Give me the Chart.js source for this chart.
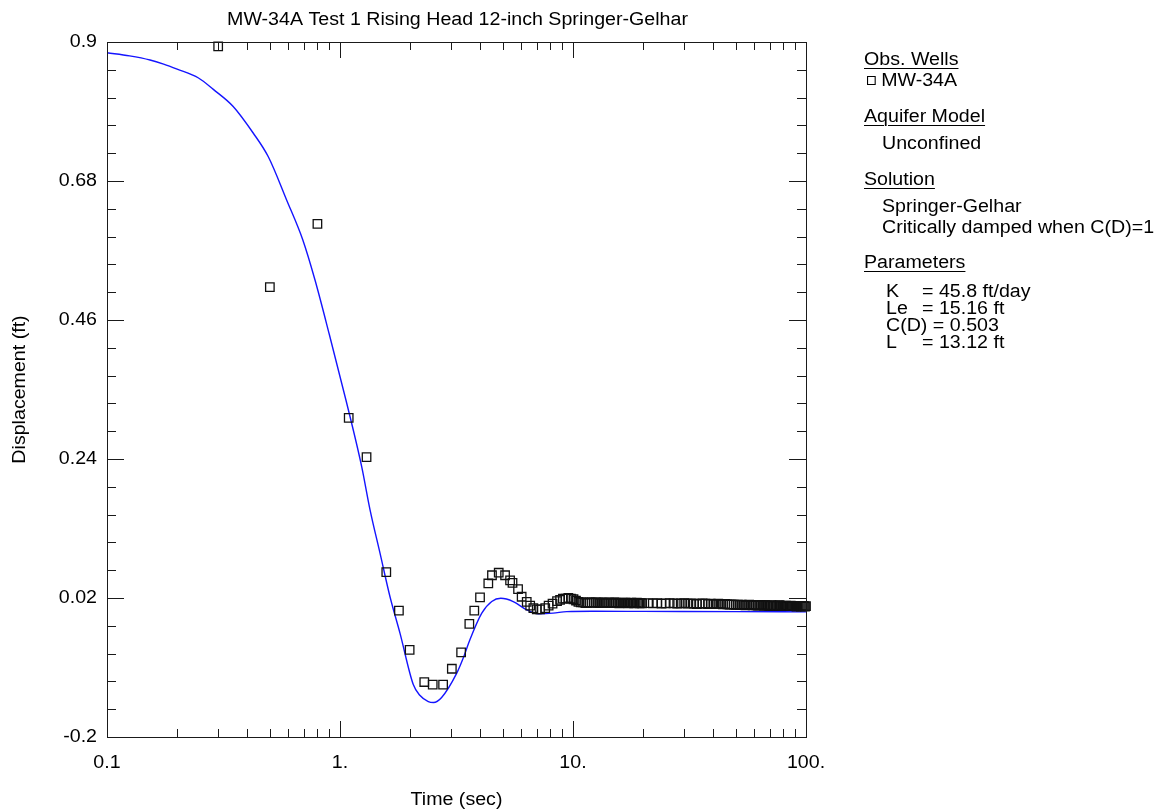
<!DOCTYPE html>
<html>
<head>
<meta charset="utf-8">
<title>MW-34A Test 1 Rising Head</title>
<script src="https://cdn.jsdelivr.net/npm/chart.js@4.4.1/dist/chart.umd.min.js"></script>
<style>
  html, body { margin: 0; padding: 0; background: #fff; }
  #wrap { position: relative; width: 1159px; height: 811px; }
  #plot { position: absolute; left: 0; top: 0; }
  .side { position: absolute; left: 0; top: 0; font-family: "Liberation Sans", Arial, sans-serif; font-size: 18px; color: #000; }
  .side div { position: absolute; white-space: nowrap; line-height: 20px; transform: scaleX(1.09); transform-origin: left center; }
  .head { text-decoration: underline; text-decoration-thickness: 1px; text-underline-offset: 3px; }
  .box { display: inline-block; width: 6px; height: 7px; border: 1px solid #000; margin-right: 5px; position: relative; top: -1px; }
</style>
</head>
<body>
<div id="wrap">
  <canvas id="plot" width="1159" height="811"></canvas>
  <div class="side">
    <div class="head" style="left:864px; top:49px;">Obs. Wells</div>
    <div style="left:867px; top:70px;"><span class="box"></span>MW-34A</div>
    <div class="head" style="left:864px; top:106px;">Aquifer Model</div>
    <div style="left:882px; top:133px;">Unconfined</div>
    <div class="head" style="left:864px; top:169px;">Solution</div>
    <div style="left:882px; top:196px;">Springer-Gelhar</div>
    <div style="left:882px; top:217px;">Critically damped when C(D)=1</div>
    <div class="head" style="left:864px; top:252px;">Parameters</div>
    <div style="left:886px; top:281px;">K</div><div style="left:922px; top:281px;">= 45.8 ft/day</div>
    <div style="left:886px; top:298px;">Le</div><div style="left:922px; top:298px;">= 15.16 ft</div>
    <div style="left:886px; top:315px;">C(D) = 0.503</div>
    <div style="left:886px; top:332px;">L</div><div style="left:922px; top:332px;">= 13.12 ft</div>
  </div>
</div>
<script>
// observed displacement, MW-34A
const obsTime = [0.3, 0.5, 0.8, 1.09, 1.3, 1.58, 1.79, 1.99, 2.3, 2.5, 2.77, 3.02, 3.31, 3.59, 3.77, 3.99,
    4.33, 4.49, 4.8, 5.11, 5.37, 5.5, 5.81, 6.02, 6.33, 6.55, 6.76, 6.99, 7.22, 7.6, 7.86, 8.17, 8.54,
    8.8, 9.05, 9.3, 9.55, 9.8, 10.05, 10.3, 10.55, 10.8, 11.05, 11.3, 11.55, 11.8,
    12.05, 12.3, 12.55, 12.8, 13.05, 13.3, 13.55, 13.8, 14.05, 14.3, 14.55, 14.8, 15.05, 15.3, 15.55, 15.8,
    16.05, 16.3, 16.55, 16.8, 17.05, 17.3, 17.55, 17.8, 18.05, 18.3, 18.55, 18.8, 19.05, 19.3, 19.55, 19.8,
    21, 22, 23, 24, 25, 26, 27, 28, 29, 30, 31, 32, 33, 34, 35, 36, 37, 38, 39, 40,
    41, 42, 43, 44, 45, 46, 47, 48, 49, 50, 51, 52, 53, 54, 55, 56, 57, 58, 59, 60,
    61, 62, 63, 64, 65, 66, 67, 68, 69, 70, 71, 72, 73, 74, 75, 76, 77, 78, 79, 80,
    81, 82, 83, 84, 85, 86, 87, 88, 89, 90, 91, 92, 93, 94, 95, 96, 97, 98, 99, 100];
const obsDisp = [0.893, 0.512, 0.612, 0.305, 0.243, 0.061, 0.0, -0.062, -0.113, -0.117, -0.117, -0.092, -0.066, -0.021, 0.0, 0.021,
    0.043, 0.056, 0.060, 0.056, 0.048, 0.044, 0.034, 0.022, 0.014, 0.008, 0.004, 0.002, 0.002, 0.004, 0.008, 0.011, 0.015,
    0.017, 0.019, 0.019, 0.020, 0.019, 0.018, 0.016, 0.014, 0.013, 0.013, 0.012, 0.0125, 0.013,
    0.013, 0.0125, 0.013, 0.0125, 0.012, 0.0125, 0.013, 0.0125, 0.012, 0.0125, 0.012, 0.0125, 0.013, 0.0125, 0.012, 0.0115,
    0.012, 0.0125, 0.012, 0.0125, 0.012, 0.0115, 0.012, 0.0125, 0.012, 0.0115, 0.012, 0.0125, 0.012, 0.0115, 0.012, 0.0115,
    0.012, 0.0115, 0.012, 0.011, 0.0115, 0.012, 0.0115, 0.011, 0.0115, 0.012, 0.011, 0.0115, 0.011, 0.0105, 0.011, 0.0115, 0.011, 0.0105, 0.011, 0.0105,
    0.0105, 0.011, 0.0105, 0.010, 0.0105, 0.010, 0.0095, 0.010, 0.0095, 0.009, 0.0095, 0.009, 0.0095, 0.009, 0.0085, 0.009, 0.0095, 0.009, 0.0085, 0.009,
    0.0085, 0.008, 0.0085, 0.009, 0.0085, 0.008, 0.0085, 0.008, 0.0075, 0.008, 0.0085, 0.008, 0.0075, 0.008, 0.0075, 0.008, 0.0085, 0.008, 0.0075, 0.007,
    0.0075, 0.008, 0.0075, 0.007, 0.0075, 0.008, 0.0075, 0.007, 0.0075, 0.007, 0.0065, 0.007, 0.0075, 0.007, 0.0065, 0.007, 0.0075, 0.007, 0.0065, 0.007];

// Springer-Gelhar type curve
const modelTime = [0.1, 0.125, 0.153, 0.175, 0.2, 0.247, 0.286, 0.348, 0.424, 0.493, 0.59, 0.692, 0.78, 0.9,
    1.061, 1.239, 1.345, 1.485, 1.639, 1.81, 2.063, 2.2, 2.393, 2.52, 2.73, 3.17, 3.38, 3.61, 4.06, 4.48,
    4.9, 5.54, 6.33, 7.1, 8.22, 9.4, 12, 20, 50, 100];
const modelDisp = [0.883, 0.878, 0.8715, 0.865, 0.857, 0.843, 0.825, 0.798, 0.756, 0.718, 0.65, 0.587, 0.524, 0.437,
    0.333, 0.228, 0.16, 0.091, 0.022, -0.036, -0.117, -0.134, -0.144, -0.1455, -0.1375, -0.099, -0.075, -0.046, -0.004, 0.0144,
    0.0195, 0.0144, 0.0013, -0.005, -0.004, -0.0015, -0.001, -0.0012, -0.0015, -0.002];

const xTickValues = [0.1, 1, 10, 100];
const xTickLabels = ['0.1', '1.', '10.', '100.'];
const yTickValues = [-0.2, 0.02, 0.24, 0.46, 0.68, 0.9];
const yTickLabels = ['-0.2', '0.02', '0.24', '0.46', '0.68', '0.9'];

const FONT = '18px "Liberation Sans", Arial, sans-serif';
const STRETCH = 1.09;

// text is drawn a little wide, like the rest of the sheet
function wideText(ctx, text, x, y, rotate) {
    ctx.save();
    ctx.translate(x, y);
    if (rotate) ctx.rotate(rotate);
    ctx.scale(STRETCH, 1);
    ctx.fillText(text, 0, 0);
    ctx.restore();
}

// frame, inward ticks on all four sides, labels and titles
const axisFrame = {
    id: 'axisFrame',
    afterDraw(chart) {
        const { ctx, chartArea: a, scales: { x, y } } = chart;
        ctx.save();
        ctx.strokeStyle = '#1a1a1a';
        ctx.lineWidth = 1;
        ctx.strokeRect(a.left + 0.5, a.top + 0.5, a.right - a.left, a.bottom - a.top);

        ctx.beginPath();
        const xTick = (v, len) => {
            const px = Math.round(x.getPixelForValue(v)) + 0.5;
            ctx.moveTo(px, a.bottom); ctx.lineTo(px, a.bottom - len);
            ctx.moveTo(px, a.top); ctx.lineTo(px, a.top + len);
        };
        const yTick = (v, len) => {
            const py = Math.round(y.getPixelForValue(v)) + 0.5;
            ctx.moveTo(a.left, py); ctx.lineTo(a.left + len, py);
            ctx.moveTo(a.right, py); ctx.lineTo(a.right - len, py);
        };
        xTickValues.forEach((v, i) => {
            xTick(v, 16);
            if (i < xTickValues.length - 1) {
                for (let m = 2; m < 10; m++) xTick(v * m, 8);
            }
        });
        yTickValues.forEach((v, i) => {
            yTick(v, 17);
            if (i < yTickValues.length - 1) {
                const step = (yTickValues[i + 1] - v) / 5;
                for (let k = 1; k < 5; k++) yTick(v + step * k, 9);
            }
        });
        ctx.stroke();

        ctx.fillStyle = '#000';
        ctx.font = FONT;
        ctx.textBaseline = 'middle';
        ctx.textAlign = 'right';
        yTickValues.forEach((v, i) => {
            wideText(ctx, yTickLabels[i], a.left - 10, y.getPixelForValue(v));
        });
        ctx.textAlign = 'center';
        xTickValues.forEach((v, i) => {
            wideText(ctx, xTickLabels[i], x.getPixelForValue(v), a.bottom + 26);
        });
        const cx = (a.left + a.right) / 2;
        wideText(ctx, 'Time (sec)', cx, a.bottom + 63);
        wideText(ctx, 'MW-34A Test 1 Rising Head 12-inch Springer-Gelhar', cx + 1, 20);
        wideText(ctx, 'Displacement (ft)', 20, (a.top + a.bottom) / 2, -Math.PI / 2);
        ctx.restore();
    }
};

new Chart(document.getElementById('plot'), {
    type: 'line',
    data: {
        datasets: [
            {
                type: 'scatter',
                label: 'MW-34A',
                data: obsTime.map((t, i) => ({ x: t, y: obsDisp[i] })),
                pointStyle: 'rect',
                pointRadius: 6,
                pointBorderWidth: 1.3,
                pointBorderColor: '#111',
                pointBackgroundColor: 'rgba(0,0,0,0)',
                showLine: false,
                clip: false,
                order: 1,
            },
            {
                type: 'line',
                label: 'Springer-Gelhar',
                data: modelTime.map((t, i) => ({ x: t, y: modelDisp[i] })),
                borderColor: '#1414ff',
                borderWidth: 1.4,
                pointRadius: 0,
                cubicInterpolationMode: 'monotone',
                order: 2,
            },
        ],
    },
    options: {
        responsive: false,
        animation: false,
        events: [],
        layout: { padding: { left: 107, right: 353, top: 42, bottom: 74 } },
        scales: {
            x: { type: 'logarithmic', min: 0.1, max: 100, display: false },
            y: { type: 'linear', min: -0.2, max: 0.9, display: false },
        },
        plugins: {
            legend: { display: false },
            tooltip: { enabled: false },
        },
    },
    plugins: [axisFrame],
});
</script>
</body>
</html>
